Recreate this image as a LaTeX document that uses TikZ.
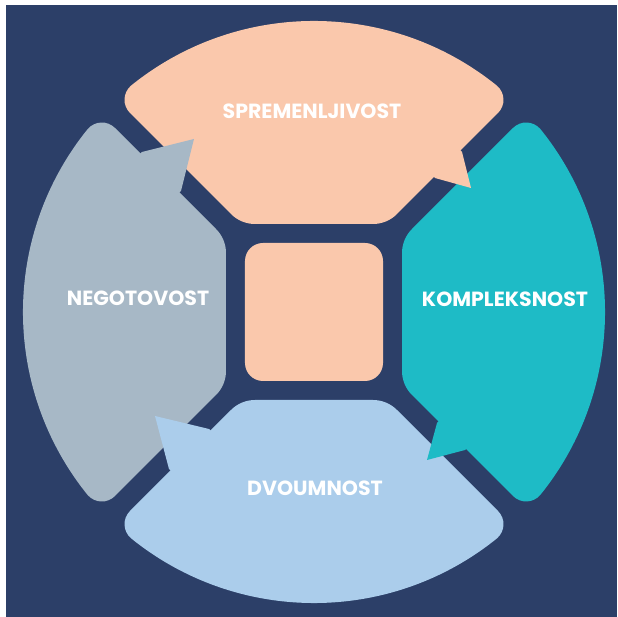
\documentclass[tikz,border=0pt]{standalone}
\usepackage{fontspec}
\newfontfamily\lblfont{Poppins}
\definecolor{navy}{HTML}{2C3F68}
\definecolor{peach}{HTML}{FAC8AC}
\definecolor{teal}{HTML}{1EBBC6}
\definecolor{lblue}{HTML}{ABCDEB}
\definecolor{lgray}{HTML}{A7B8C6}
\tikzset{
  lbl/.style={text=white, font=\lblfont\bfseries\fontsize{20.5}{20.5}\selectfont, inner sep=0pt},
}
\newcommand{\petalpath}{%
  (0,88) -- (59,88) .. controls (67.96,88) and (76.56,91.56) .. (82.90,97.90)
  -- (183.99,198.99) .. controls (191.71,206.71) and (191.24,219.10) .. (182.95,226.28)
  arc[start angle=51.03, end angle=128.97, radius=291]
  .. controls (-191.24,219.10) and (-191.71,206.71) .. (-183.99,198.99)
  -- (-82.90,97.90) .. controls (-76.56,91.56) and (-67.96,88) .. (-59,88) -- cycle}
\begin{document}
\begin{tikzpicture}[x=1pt,y=1pt]
\useasboundingbox (-314,-305) rectangle (304,312);
\fill[navy] (-308,-305) rectangle (303,307);
% petals
\fill[peach] \petalpath;
\begin{scope}[rotate=-90]\fill[teal] \petalpath;\end{scope}
\begin{scope}[rotate=180]\fill[lblue] \petalpath;\end{scope}
\begin{scope}[rotate=90]\fill[lgray] \petalpath;\end{scope}
% centre square
\fill[peach, rounded corners=18pt] (-69,-69) rectangle (69,69);
% tails
\fill[peach] (142,166) -- (148,160) -- (157,124) -- (121,134) -- (115,140) -- cycle;
\fill[teal] (129,-105) -- (123,-111) -- (113,-148) -- (151,-138) -- (157,-132) -- cycle;
\fill[lblue] (-99,-123) -- (-105,-117) -- (-159,-104) -- (-145,-157) -- (-139,-163) -- cycle;
\fill[lgray] (-178,154) -- (-172,160) -- (-120,173) -- (-133,121) -- (-139,115) -- cycle;
% labels
\node[lbl] (t1) at (-2,201) {SPREMENLJIVOST};
\node[lbl] (t2) at (191,13) {KOMPLEKSNOST};
\node[lbl] (t3) at (1,-176) {DVOUMNOST};
\node[lbl] (t4) at (-176,14) {NEGOTOVOST};
\end{tikzpicture}
\end{document}
